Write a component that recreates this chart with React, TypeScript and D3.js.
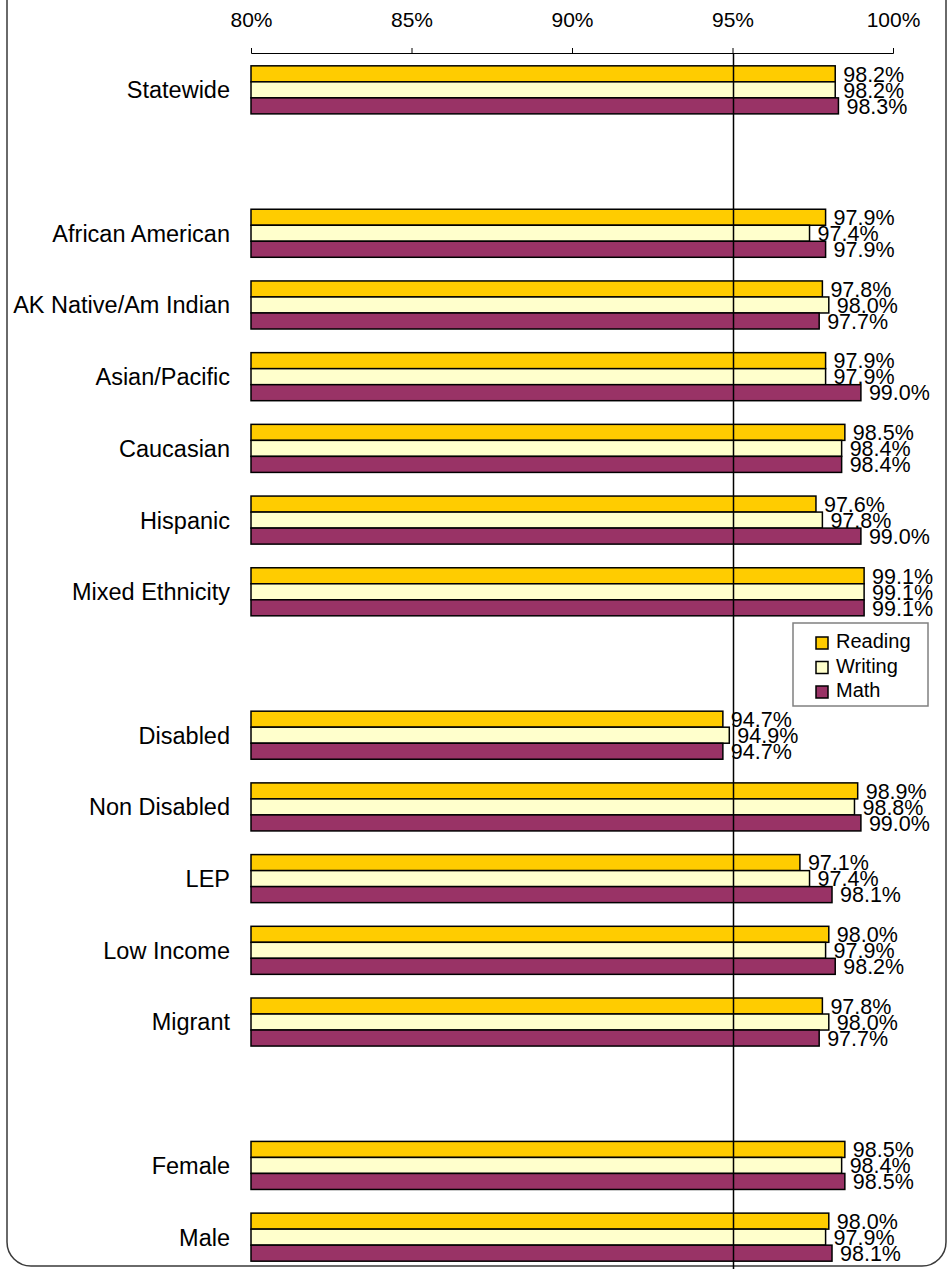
import React, { useEffect, useRef } from "react";
import * as d3 from "d3";

const categories = ["Statewide", "", "African American", "AK Native/Am Indian", "Asian/Pacific", "Caucasian", "Hispanic", "Mixed Ethnicity", "", "Disabled", "Non Disabled", "LEP", "Low Income", "Migrant", "", "Female", "Male"];
const reading = [98.2, null, 97.9, 97.8, 97.9, 98.5, 97.6, 99.1, null, 94.7, 98.9, 97.1, 98.0, 97.8, null, 98.5, 98.0];
const writing = [98.2, null, 97.4, 98.0, 97.9, 98.4, 97.8, 99.1, null, 94.9, 98.8, 97.4, 97.9, 98.0, null, 98.4, 97.9];
const math = [98.3, null, 97.9, 97.7, 99.0, 98.4, 99.0, 99.1, null, 94.7, 99.0, 98.1, 98.2, 97.7, null, 98.5, 98.1];
const seriesNames = ["Reading", "Writing", "Math"];
const seriesColors = ["#FFCC00", "#FFFFCC", "#993366"];
const tickValues = [80, 85, 90, 95, 100];
const targetValue = 95;

const W = 948;
const H = 1269;
const FONT = "'Liberation Sans', Arial, sans-serif";

export default function App() {
  const ref = useRef<SVGSVGElement>(null);

  useEffect(() => {
    const svg = d3.select(ref.current);
    svg.selectAll("*").remove();

    const x = d3.scaleLinear().domain([80, 100]).range([251, 893]);
    const idx = categories.map((_, i) => String(i));
    const y = d3.scaleBand().domain(idx).range([54, 1273]).paddingInner(0.33).paddingOuter(0.165);
    const ys = d3.scaleBand().domain(seriesNames).range([0, y.bandwidth()]);
    const allSeries = [reading, writing, math];

    // frame
    svg.append("rect")
      .attr("x", 7).attr("y", -40).attr("width", 939).attr("height", 1306)
      .attr("rx", 24).attr("fill", "none").attr("stroke", "#3a3a3a").attr("stroke-width", 1.5);

    // axis
    const axis = d3.axisTop(x).tickValues(tickValues).tickFormat((d) => `${d}%`).tickSize(5).tickPadding(21);
    const g = svg.append("g").attr("transform", "translate(0,53)").call(axis as any);
    g.selectAll("text").attr("font-family", FONT).attr("font-size", 21).attr("fill", "#000");
    g.selectAll("line,path").attr("stroke", "#000");

    // category labels
    svg.append("g").selectAll("text")
      .data(categories.map((c, i) => ({ c, i })).filter((d) => d.c !== ""))
      .join("text")
      .attr("x", 230)
      .attr("y", (d) => (y(String(d.i)) as number) + y.bandwidth() / 2)
      .attr("dy", "0.36em")
      .attr("text-anchor", "end")
      .attr("font-family", FONT).attr("font-size", 23.5)
      .text((d) => d.c);

    // bars
    allSeries.forEach((vals, s) => {
      const data = vals.map((v, i) => ({ v, i })).filter((d) => d.v !== null) as { v: number; i: number }[];
      svg.append("g").selectAll("rect")
        .data(data)
        .join("rect")
        .attr("x", x(80))
        .attr("y", (d) => (y(String(d.i)) as number) + (ys(seriesNames[s]) as number))
        .attr("width", (d) => x(d.v) - x(80))
        .attr("height", ys.bandwidth())
        .attr("fill", seriesColors[s])
        .attr("stroke", "#000")
        .attr("stroke-width", 1.5);
    });

    // target line
    svg.append("line")
      .attr("x1", x(targetValue) + 1).attr("x2", x(targetValue) + 1)
      .attr("y1", 53).attr("y2", H)
      .attr("stroke", "#000").attr("stroke-width", 1.5);

    // value labels
    allSeries.forEach((vals, s) => {
      const data = vals.map((v, i) => ({ v, i })).filter((d) => d.v !== null) as { v: number; i: number }[];
      svg.append("g").selectAll("text")
        .data(data)
        .join("text")
        .attr("x", (d) => x(d.v) + 8)
        .attr("y", (d) => (y(String(d.i)) as number) + (ys(seriesNames[s]) as number) + ys.bandwidth() / 2)
        .attr("dy", "0.36em")
        .attr("font-family", FONT).attr("font-size", 21.5)
        .text((d) => `${d.v.toFixed(1)}%`);
    });

    // legend
    const lg = svg.append("g").attr("transform", "translate(793,623)");
    lg.append("rect").attr("width", 135).attr("height", 83).attr("fill", "#fff").attr("stroke", "#808080").attr("stroke-width", 1.5);
    seriesNames.forEach((n, i) => {
      lg.append("rect").attr("x", 23).attr("y", 14 + i * 24.5).attr("width", 12).attr("height", 12)
        .attr("fill", seriesColors[i]).attr("stroke", "#000").attr("stroke-width", 1.5);
      lg.append("text").attr("x", 43).attr("y", 18 + i * 24.5).attr("dy", "0.36em")
        .attr("font-family", FONT).attr("font-size", 20).text(n);
    });
  }, []);

  return (
    <svg ref={ref} width={W} height={H} style={{ position: "absolute", left: 0, top: 0, background: "#fff" }} />
  );
}
